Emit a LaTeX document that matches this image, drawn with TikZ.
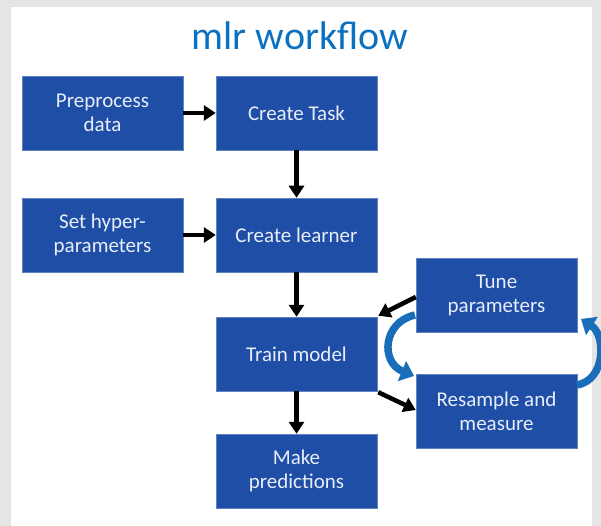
\documentclass[tikz,border=0pt]{standalone}
\usepackage{fontspec}
\setmainfont{Carlito}
\usetikzlibrary{arrows.meta}
\definecolor{boxblue}{RGB}{31,78,167}
\definecolor{titleblue}{RGB}{10,112,192}
\definecolor{arcblue}{RGB}{25,110,185}
\definecolor{bggrey}{RGB}{229,229,229}
\definecolor{boxtext}{RGB}{232,238,248}
\begin{document}
\begin{tikzpicture}[x=1pt,y=-1pt,
  stepbox/.style={draw=boxblue!70!white, line width=0.5pt, fill=boxblue, minimum width=161pt, minimum height=74pt,
    inner sep=0pt, align=center, text=boxtext, font=\fontsize{21}{24}\selectfont},
  flow/.style={line width=4.5pt, -{Triangle[width=15pt,length=12pt]}},
  arc/.style={arcblue, line width=7.5pt, -{Triangle[width=21pt,length=13pt]}}]
\fill[bggrey] (0,0) rectangle (601,526);
\fill[white] (11,7) rectangle (592,526);
\useasboundingbox (0,0) rectangle (601,526);
\node[text=titleblue, font=\fontsize{40}{44}\selectfont] (title) at (300,36) {mlr workflow};
\node[stepbox] (pre) at (102.5,113) {Preprocess\\data};
\node[stepbox] (task) at (296.5,113) {Create Task};
\node[stepbox] (hyp) at (102.5,235) {Set hyper-\\parameters};
\node[stepbox] (learner) at (296.5,235) {Create learner};
\node[stepbox] (train) at (296.5,354) {Train model};
\node[stepbox] (pred) at (296.5,471) {Make\\predictions};
\node[stepbox] (tune) at (496.5,295) {Tune\\parameters};
\node[stepbox] (res) at (496.5,411) {Resample and\\measure};
\draw[flow] (pre) -- (task);
\draw[flow] (hyp) -- (learner);
\draw[flow] (task) -- (learner);
\draw[flow] (learner) -- (train);
\draw[flow] (train) -- (pred);
\draw[flow] ([yshift=-2pt]tune.west) -- ([xshift=1pt,yshift=1pt]train.north east);
\draw[flow] ([xshift=1pt,yshift=-1pt]train.south east) -- ([yshift=1pt]res.west);
\coordinate (a1) at (415,315);
\coordinate (b1) at (414,376);
\draw[arc] (a1) .. controls (383,322) and (380,362) .. (b1);
\coordinate (a2) at (577,385);
\coordinate (b2) at (581,319);
\draw[arc] (a2) .. controls (606,380) and (606,335) .. (b2);
\end{tikzpicture}
\end{document}
